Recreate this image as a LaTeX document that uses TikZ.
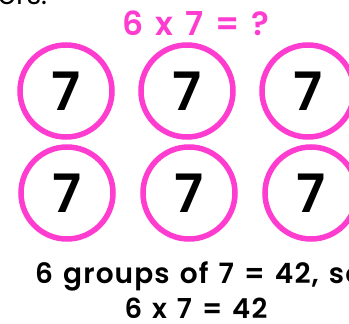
\documentclass[tikz,border=0pt]{standalone}
\usepackage{fontspec}
\setmainfont{Poppins}[BoldFont={Poppins SemiBold}]
\newfontfamily\widefont{Poppins SemiBold}[LetterSpace=4,WordSpace=1.3]
\definecolor{pinkc}{HTML}{FF3CD0}
\begin{document}
\begin{tikzpicture}[x=1pt,y=-1pt,
  ring/.style={circle,draw=pinkc,line width=5.5pt,minimum size=92pt,inner sep=0pt,font=\fontsize{53}{53}\selectfont\bfseries},
  ]
\useasboundingbox (0,0) rectangle (349,324);
\clip (0,0) rectangle (349,324);
\node[anchor=base west,inner sep=0pt,font=\fontsize{28}{28}\selectfont] (prev) at (-2,5) {ors.};
\node[anchor=base,inner sep=0pt,font=\fontsize{33}{33}\widefont,text=pinkc] (title) at (196,35) {6 x 7 = ?};
\node[ring] (a1) at (66,91) {7};
\node[ring] (a2) at (187,91) {7};
\node[ring] (a3) at (308,91) {7};
\node[ring] (b1) at (67,193) {7};
\node[ring] (b2) at (189,193) {7};
\node[ring] (b3) at (311,193) {7};
\node[anchor=base west,inner sep=0pt,font=\fontsize{28}{28}\widefont] (l1) at (35,283) {6 groups of 7 = 42, so};
\node[anchor=base,inner sep=0pt,font=\fontsize{27.5}{28}\widefont] (l2) at (196,318) {6 x 7 = 42};
\end{tikzpicture}
\end{document}
